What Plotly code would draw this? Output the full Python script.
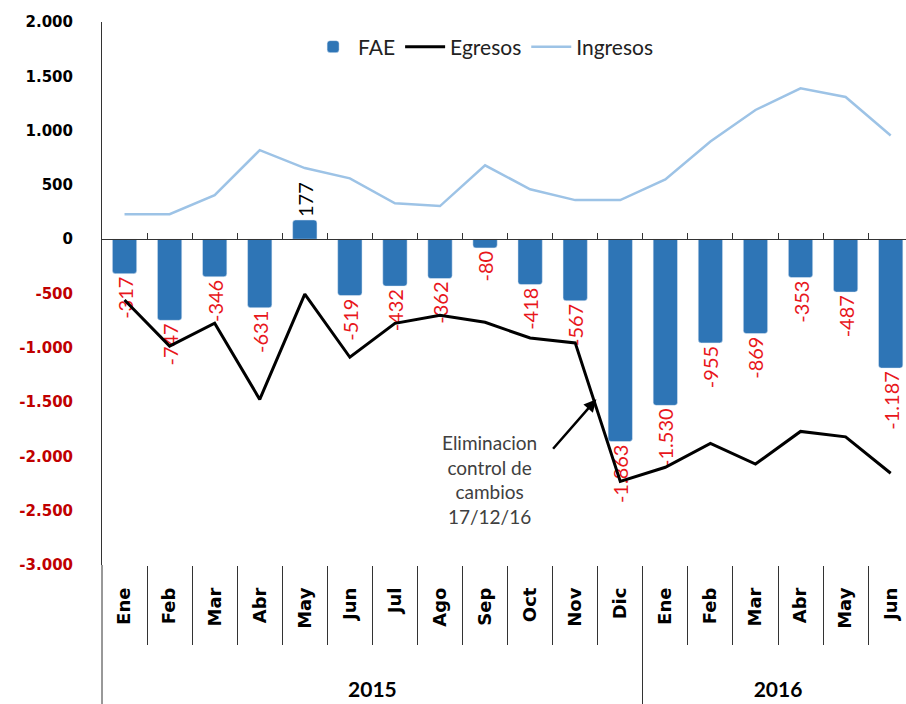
import plotly.graph_objects as go

years = ["2015"] * 12 + ["2016"] * 6
months = ["Ene", "Feb", "Mar", "Abr", "May", "Jun", "Jul", "Ago", "Sep", "Oct", "Nov", "Dic",
          "Ene", "Feb", "Mar", "Abr", "May", "Jun"]
fae = [-317, -747, -346, -631, 177, -519, -432, -362, -80, -418, -567, -1863,
       -1530, -955, -869, -353, -487, -1187]
egresos = [-560, -985, -773, -1475, -505, -1087, -775, -700, -765, -910, -955, -2230,
           -2100, -1880, -2070, -1770, -1820, -2155]
ingresos = [230, 230, 405, 820, 655, 560, 330, 305, 680, 460, 360, 360,
            550, 900, 1190, 1390, 1310, 955]
y_ticks = [2000, 1500, 1000, 500, 0, -500, -1000, -1500, -2000, -2500, -3000]


def fmt(v):
    return f"{v:,}".replace(",", ".")


RED = "#E8161B"
TICK_RED = "#C00000"
BLUE = "#2E75B6"
LIGHT = "#9DC3E6"
LINE = "#333333"

n = len(months)
x = list(range(n))
xr = [-0.5, 17.34]
boundaries = [i + 0.5 for i in range(n - 1)]

# year groups: centers and the boundary between them
year_names = []
for yv in years:
    if yv not in year_names:
        year_names.append(yv)
year_centers = []
year_bounds = []
for yn in year_names:
    idx = [i for i, yv in enumerate(years) if yv == yn]
    year_centers.append((idx[0] + idx[-1]) / 2)
    if idx[-1] < n - 1:
        year_bounds.append(idx[-1] + 0.5)

fig = go.Figure()
fig.add_trace(go.Bar(
    x=x, y=fae, name="FAE", marker=dict(color=BLUE, cornerradius=3),
    width=0.54,
    text=[fmt(v) for v in fae], textposition="outside", textangle=-90,
    textfont=dict(family="Lato", size=20, color=[RED if v < 0 else "#000000" for v in fae]),
    constraintext="none", cliponaxis=False,
))
fig.add_trace(go.Scatter(
    x=x, y=egresos, name="Egresos", mode="lines",
    line=dict(color="#000000", width=3),
))
fig.add_trace(go.Scatter(
    x=x, y=ingresos, name="Ingresos", mode="lines",
    line=dict(color=LIGHT, width=2.5),
))
fig.add_trace(go.Scatter(x=[None], y=[None], xaxis="x2", showlegend=False, hoverinfo="skip"))
fig.add_trace(go.Scatter(x=[None], y=[None], xaxis="x3", showlegend=False, hoverinfo="skip"))

fig.update_layout(
    width=906, height=704,
    margin=dict(l=102, r=0, t=22, b=139),
    plot_bgcolor="white", paper_bgcolor="white",
    separators=",.",
    legend=dict(orientation="h", x=0.474, xanchor="center", y=0.954, yanchor="middle",
                font=dict(family="Lato", size=21, color="#222222"),
                itemwidth=40, tracegroupgap=0),
    xaxis=dict(
        type="linear", range=xr,
        tickvals=x, ticktext=months, tickangle=-90,
        ticks="", ticklabelstandoff=18,
        tickfont=dict(family="DejaVu Sans", size=18, color="#000000", weight="bold"),
        minor=dict(tickvals=boundaries, ticks="outside", ticklen=79, tickcolor=LINE, tickwidth=1,
                   showgrid=False),
        showline=False, showgrid=False, zeroline=False,
    ),
    xaxis2=dict(
        type="linear", range=xr, overlaying="x", anchor="free", position=0.6, side="top",
        tickvals=boundaries,
        ticks="outside", ticklen=6, tickcolor=LINE,
        showticklabels=False, showline=True, linecolor=LINE, linewidth=1,
        showgrid=False, zeroline=False,
    ),
    xaxis3=dict(
        type="linear", range=xr, overlaying="x", anchor="free", position=0, side="bottom",
        tickvals=year_centers, ticktext=year_names, ticks="", ticklabelstandoff=110,
        tickfont=dict(family="Lato", size=21, color="#000000", weight="bold"),
        minor=dict(tickvals=year_bounds, ticks="outside", ticklen=139, tickcolor=LINE, tickwidth=1,
                   showgrid=False),
        showline=False, showgrid=False, zeroline=False,
    ),
    yaxis=dict(
        range=[-3000, 2000], tickvals=y_ticks,
        ticktext=[f"<span style='color:{TICK_RED if v < 0 else '#000000'}'>{fmt(v)}</span>" for v in y_ticks],
        tickfont=dict(family="DejaVu Sans", size=15, weight="bold"),
        showgrid=False, zeroline=False, showline=True, linecolor=LINE, linewidth=1,
        ticks="", ticklabelstandoff=25,
    ),
    annotations=[
        dict(x=8.1, y=-2210, xref="x", yref="y", showarrow=False,
             text="Eliminacion<br>control de<br>cambios<br>17/12/16",
             font=dict(family="Lato", size=19, color="#404040"), align="center"),
        dict(x=10.47, y=-1473, ax=9.48, ay=-1943, xref="x", yref="y", axref="x", ayref="y",
             text="", showarrow=True, arrowhead=2, arrowsize=1, arrowwidth=2.5, arrowcolor="#000000"),
    ],
    shapes=[
        dict(type="line", xref="paper", yref="paper", x0=0, x1=0, y0=0, y1=-0.26,
             line=dict(color=LINE, width=1)),
    ],
)

fig.write_html("out.html", config={"displayModeBar": False},
               post_script="document.body.style.margin='0';document.body.style.overflow='hidden';")
